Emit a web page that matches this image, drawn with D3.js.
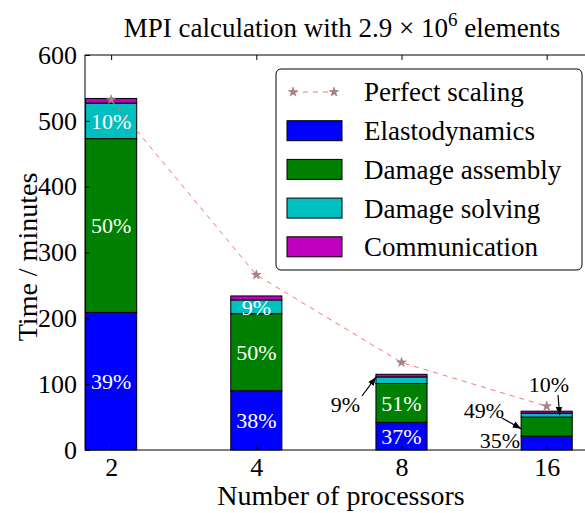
<!DOCTYPE html>
<html><head><meta charset="utf-8">
<script src="https://cdn.jsdelivr.net/npm/d3@7"></script>
<style>body{margin:0;background:#fff}</style>
</head><body><svg id="c" width="585" height="513"></svg>
<script>
const categories = ["2","4","8","16"];
const elastodynamics = [209, 90, 42, 21];
const damageAssembly = [264, 117, 59, 29];
const damageSolving = [54, 21, 10, 6];
const communication = [7, 6, 4, 3];
const perfectScaling = [532, 266, 133, 66.5];
const pctElasto = ["39%","38%","37%","35%"];
const pctAssembly = ["50%","50%","51%","49%"];
const pctSolving = ["10%","9%","9%","10%"];
const yTicks = [0,100,200,300,400,500,600];
const seriesNames = ["Elastodynamics","Damage assembly","Damage solving","Communication"];
const seriesColors = ["#0000ff","#008000","#00bfbf","#bf00bf"];

const FF = "Liberation Serif";
const svg = d3.select("#c");
const L=85, T=55, B=450, R=612;
const y = d3.scaleLinear().domain([0,600]).range([B,T]);
const x = d3.scaleLinear().domain([-0.18, 3.45]).range([L, R]);
const bw = 0.352;
const pxW = x(bw)-x(0);

function txt(sel){ return sel.style("font-family",FF); }

const data = categories.map((c,i)=>({c,i,vals:[elastodynamics[i],damageAssembly[i],damageSolving[i],communication[i]]}));
const g = svg.append("g");
data.forEach(d=>{
  let acc=0;
  d.vals.forEach((v,k)=>{
    g.append("rect").attr("x", x(d.i)-pxW/2).attr("width", pxW)
      .attr("y", y(acc+v)).attr("height", y(acc)-y(acc+v))
      .attr("fill", seriesColors[k]).attr("stroke","#000").attr("stroke-width",1);
    acc+=v;
  });
});

// frame
svg.append("rect").attr("x",L).attr("y",T).attr("width",R-L).attr("height",B-T).attr("fill","none").attr("stroke","#000").attr("stroke-width",1);

// axes
const yAxis = d3.axisLeft(y).tickValues(yTicks).tickSizeInner(-5).tickSizeOuter(0).tickPadding(8);
const ya = svg.append("g").attr("transform",`translate(${L},0)`).call(yAxis);
ya.select(".domain").remove();
txt(ya.selectAll("text")).style("font-size","26px").attr("fill","#000");
ya.selectAll("line").attr("stroke","#000");
const xAxis = d3.axisBottom(x).tickValues([0,1,2,3]).tickFormat(i=>categories[i]).tickSizeInner(-5).tickSizeOuter(0).tickPadding(8);
const xa = svg.append("g").attr("transform",`translate(0,${B})`).call(xAxis);
xa.select(".domain").remove();
txt(xa.selectAll("text")).style("font-size","26px").attr("fill","#000");
xa.selectAll("line").attr("stroke","#000");
const xTop = d3.axisTop(x).tickValues([0,1,2,3]).tickFormat("").tickSizeInner(-5).tickSizeOuter(0);
const xt = svg.append("g").attr("transform",`translate(0,${T})`).call(xTop);
xt.select(".domain").remove();
xt.selectAll("line").attr("stroke","#000");

// perfect scaling
const line = d3.line().x((d,i)=>x(i)).y(d=>y(d));
svg.append("path").datum(perfectScaling).attr("d",line).attr("fill","none").attr("stroke","#ff7070").attr("stroke-width",1).attr("stroke-dasharray","5,5");
const star = d3.symbol().type(d3.symbolStar).size(28);
svg.selectAll(".st").data(perfectScaling).enter().append("path").attr("transform",(d,i)=>`translate(${x(i)},${y(d)})`).attr("d",star()).attr("fill","#b08080").attr("stroke","#807070").attr("stroke-width",0.5);

// percent labels inside bars
function lab(i, lo, hi, t){
  txt(svg.append("text")).attr("x",x(i)).attr("y",(y(lo)+y(hi))/2).attr("dy","0.35em").attr("text-anchor","middle")
    .style("font-size","22px").attr("fill","#fff").text(t);
}
[0,1,2].forEach(i=>{
  lab(i,0,elastodynamics[i],pctElasto[i]);
  lab(i,elastodynamics[i],elastodynamics[i]+damageAssembly[i],pctAssembly[i]);
});
lab(0,elastodynamics[0]+damageAssembly[0],elastodynamics[0]+damageAssembly[0]+damageSolving[0],pctSolving[0]);
lab(1,elastodynamics[1]+damageAssembly[1],elastodynamics[1]+damageAssembly[1]+damageSolving[1],pctSolving[1]);

// annotations with arrows
svg.append("defs").append("marker").attr("id","ah").attr("viewBox","0 0 10 10").attr("refX",10).attr("refY",5)
  .attr("markerWidth",7).attr("markerHeight",7).attr("orient","auto-start-reverse")
  .append("path").attr("d","M0,1 L10,5 L0,9 Z").attr("fill","#000");
function ann(t, tx, ty, anchor, x1,y1,x2,y2){
  txt(svg.append("text")).attr("x",tx).attr("y",ty).attr("dy","0.35em").attr("text-anchor",anchor).style("font-size","22px").attr("fill","#000").text(t);
  if(x1!==null) svg.append("line").attr("x1",x1).attr("y1",y1).attr("x2",x2).attr("y2",y2).attr("stroke","#000").attr("stroke-width",1.2).attr("marker-end","url(#ah)");
}
const c8 = elastodynamics[2]+damageAssembly[2]+damageSolving[2];
ann(pctSolving[2], 360, 404, "end", 362, 396, x(2)-pxW/2, y(c8-damageSolving[2]/2)-3);
ann(pctSolving[3], 549, 384, "middle", 558, 395, x(3)+13, y(elastodynamics[3]+damageAssembly[3]+damageSolving[3]/2));
ann(pctAssembly[3], 504, 410, "end", 502, 418, x(3)-pxW/2, y(elastodynamics[3]+damageAssembly[3]/2)+2);
ann(pctElasto[3], 520, 440, "end", null);

// axis titles
txt(svg.append("text")).attr("x",341).attr("y",505).attr("text-anchor","middle").style("font-size","28px").text("Number of processors");
txt(svg.append("text")).attr("transform","translate(37,257) rotate(-90)").attr("text-anchor","middle").style("font-size","28px").text("Time / minutes");
const tt = txt(svg.append("text")).attr("x",342).attr("y",37).attr("text-anchor","middle").style("font-size","27px");
tt.append("tspan").text("MPI calculation with 2.9 \u00d7 10");
tt.append("tspan").attr("dy",-11).style("font-size","19px").text("6");
tt.append("tspan").attr("dy",11).text(" elements");

// legend
const lg = svg.append("g");
lg.append("rect").attr("x",276).attr("y",69).attr("width",306).attr("height",201).attr("rx",5).attr("fill","#fff").attr("stroke","#000").attr("stroke-width",1);
const ly0 = 92, ldy = 38.7;
lg.append("line").attr("x1",293).attr("x2",334).attr("y1",ly0).attr("y2",ly0).attr("stroke","#ff7070").attr("stroke-dasharray","5,5");
[293,334].forEach(px=>lg.append("path").attr("transform",`translate(${px},${ly0})`).attr("d",star()).attr("fill","#b08080").attr("stroke","#807070").attr("stroke-width",0.5));
txt(lg.append("text")).attr("x",364).attr("y",ly0).attr("dy","0.35em").style("font-size","27px").text("Perfect scaling");
seriesNames.forEach((n,k)=>{
  const yy = ly0 + ldy*(k+1);
  lg.append("rect").attr("x",287).attr("y",yy-10).attr("width",55).attr("height",20).attr("fill",seriesColors[k]).attr("stroke","#000").attr("stroke-width",1);
  txt(lg.append("text")).attr("x",364).attr("y",yy).attr("dy","0.35em").style("font-size","27px").text(n);
});
</script></body></html>
